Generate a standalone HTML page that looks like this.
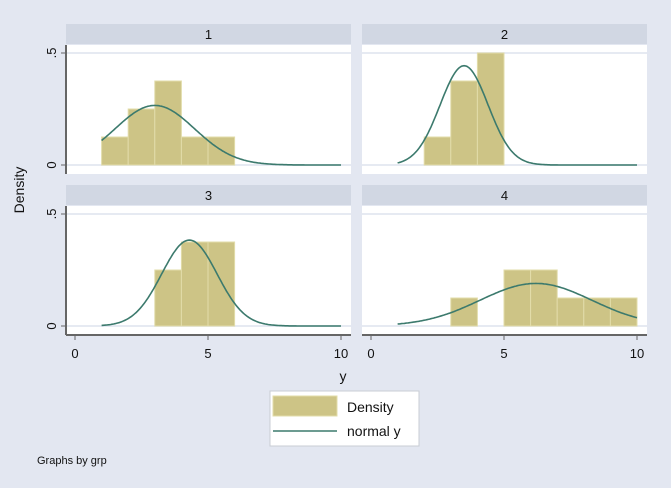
<!DOCTYPE html>
<html><head><meta charset="utf-8"><style>
body{margin:0;background:#e3e7f1;font-family:"Liberation Sans",sans-serif}
svg{display:block}
</style></head><body>
<svg width="671" height="488" xmlns="http://www.w3.org/2000/svg" font-family="Liberation Sans, sans-serif">
<rect width="671" height="488" fill="#e3e7f1"/>
<g id="panels"></g>
<text x="24" y="190" font-size="14" text-anchor="middle" transform="rotate(-90 24 190)" fill="#111">Density</text>
<text x="343" y="381" font-size="14" text-anchor="middle" fill="#111">y</text>
<g>
<rect x="270" y="391" width="149" height="55" fill="#fff" stroke="#c8ccd4"/>
<rect x="273" y="396" width="64" height="20" fill="#cdc486" stroke="#e2dcaa"/>
<text x="347" y="412" font-size="14" fill="#111">Density</text>
<line x1="273" y1="431" x2="337" y2="431" stroke="#3c7a6d" stroke-width="1.6"/>
<text x="347" y="436" font-size="14" fill="#111">normal y</text>
</g>
<text x="37" y="464" font-size="11" fill="#111">Graphs by grp</text>
</svg>
<script>
const groups=["1","2","3","4"];
const binStarts=[[1,2,3,4,5],[2,3,4],[3,4,5],[3,5,6,7,8,9]];
const binHeights=[[0.125,0.25,0.375,0.125,0.125],[0.125,0.375,0.5],[0.25,0.375,0.375],[0.125,0.25,0.25,0.125,0.125,0.125]];
const means=[3,3.5,4.3,6.2];
const sds=[1.5,0.9,1.04,2.1];
const xTicks=[0,5,10];
const yTicks=[0,0.5];
const yTickLabels=["0",".5"];
const NS="http://www.w3.org/2000/svg";
const g=document.getElementById('panels');
function mk(t,a,p){const e=document.createElementNS(NS,t);for(const k in a)e.setAttribute(k,a[k]);(p||g).appendChild(e);return e;}
const layouts=[{l:66,r:351,t:24},{l:362,r:647,t:24},{l:66,r:351,t:185},{l:362,r:647,t:185}];
groups.forEach((name,i)=>{
  const L=layouts[i];
  const xs=v=>L.l+9+v*26.6;
  const y0=L.t+141, ys=v=>y0-v*224;
  const pg=mk('g',{});
  
  
  const hd=mk('rect',{x:L.l,y:L.t,width:L.r-L.l,height:20,fill:'#d1d7e3'},pg);
  
  
  const ht=mk('text',{x:(L.l+L.r)/2,y:L.t+15,'font-size':13,'text-anchor':'middle',fill:'#111'},pg);
  ht.textContent=name;
  
  
  const pa=mk('rect',{x:L.l,y:L.t+21,width:L.r-L.l,height:129,fill:'#fff'},pg);
  
  
  yTicks.forEach((v,k)=>{
    const gl=mk('line',{x1:L.l,x2:L.r,y1:ys(v),y2:ys(v),stroke:'#e6eaf2','stroke-width':2},pg);
    
    
    if(i%2===0){
      const tk=mk('line',{x1:L.l-5,x2:L.l,y1:ys(v),y2:ys(v),stroke:'#666'},pg);
      
      
      const tl=mk('text',{x:L.l-10,y:ys(v),'font-size':13,'text-anchor':'middle',fill:'#111',transform:`rotate(-90 ${L.l-10} ${ys(v)})`},pg);
      tl.textContent=yTickLabels[k];
      
      
    }
  });
  binStarts[i].forEach((s,k)=>{
    const h=binHeights[i][k];
    const b=mk('rect',{x:xs(s),y:ys(h),width:xs(s+1)-xs(s),height:y0-ys(h),fill:'#cdc486',stroke:'#e2dcaa','stroke-width':1},pg);
    
    
  });
  let d='';
  for(let k=0;k<=180;k++){const x=1+9*k/180;const p=Math.exp(-0.5*((x-means[i])/sds[i])**2)/(sds[i]*Math.sqrt(2*Math.PI));d+=(k?'L':'M')+xs(x).toFixed(1)+' '+ys(p).toFixed(1);}
  const ln=mk('path',{d:d,fill:'none',stroke:'#3c7a6d','stroke-width':1.6},pg);
  
  
  if(i%2===0){const ax=mk('line',{x1:L.l,x2:L.l,y1:L.t+21,y2:L.t+150,stroke:'#666','stroke-width':2},pg);
    }
  if(i>=2){
    const ax=mk('line',{x1:L.l,x2:L.r,y1:L.t+150,y2:L.t+150,stroke:'#666','stroke-width':2},pg);
    
    
    xTicks.forEach(v=>{
      const tk=mk('line',{x1:xs(v),x2:xs(v),y1:L.t+150,y2:L.t+155,stroke:'#666'},pg);
      
      
      const tl=mk('text',{x:xs(v),y:L.t+173,'font-size':13,'text-anchor':'middle',fill:'#111'},pg);
      tl.textContent=String(v);
      
      
    });
  }
});
</script>
</body></html>
